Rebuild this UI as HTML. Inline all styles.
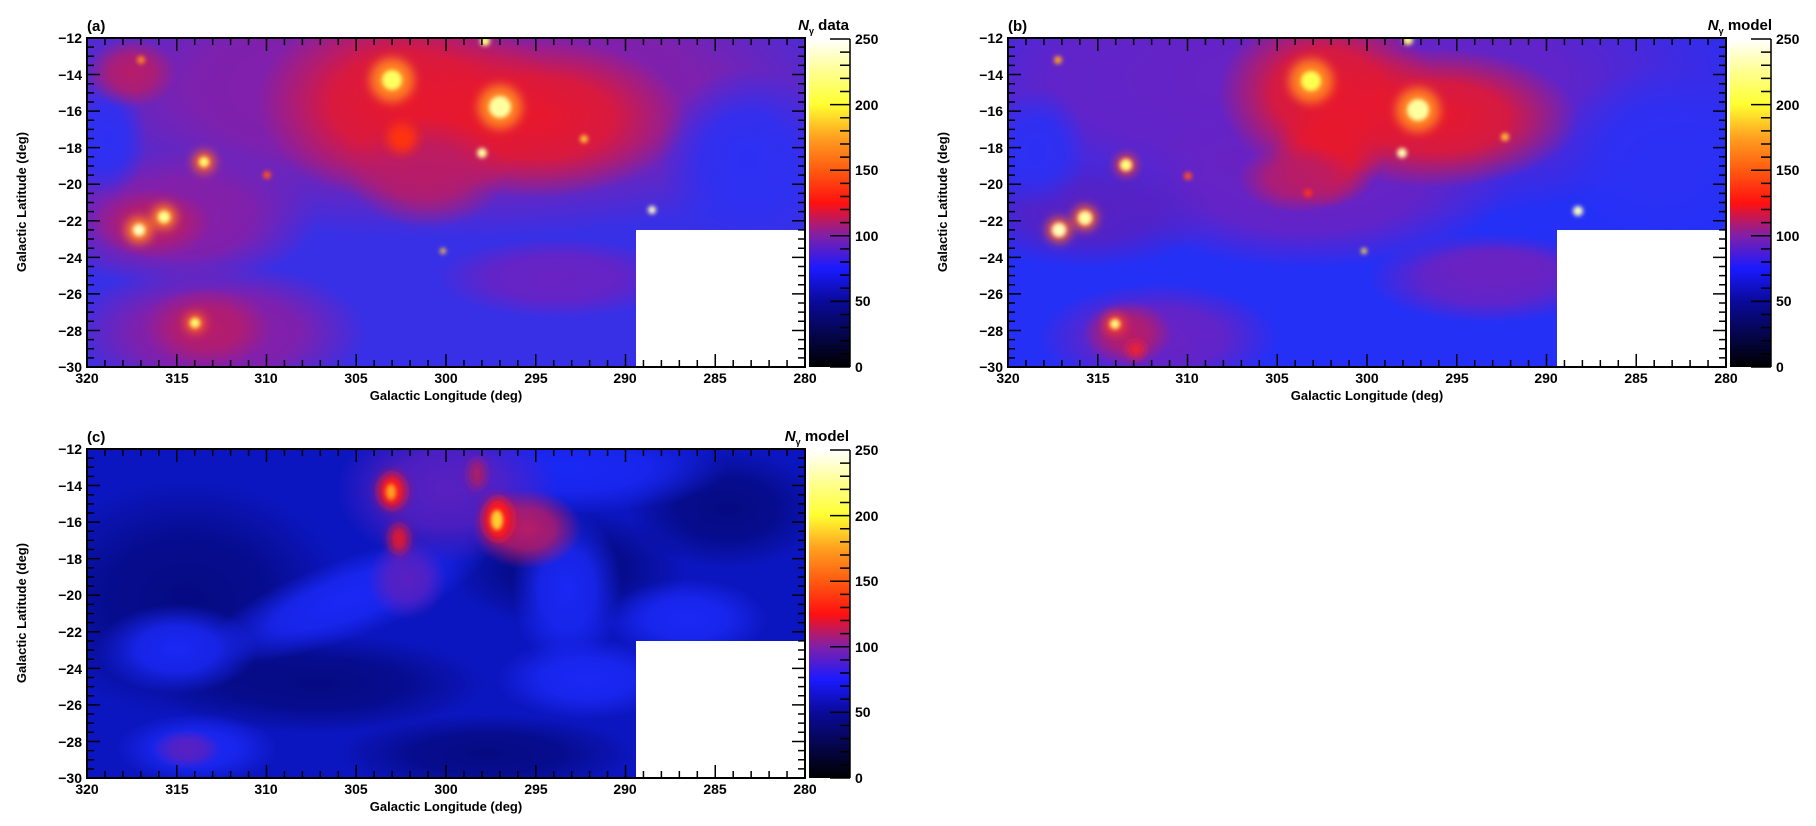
<!DOCTYPE html>
<html><head><meta charset="utf-8"><style>
html,body{margin:0;padding:0;background:#fff;width:1816px;height:826px;overflow:hidden}
svg{display:block}
text{font-family:"Liberation Sans",Arial,sans-serif;font-weight:bold;fill:#000}
</style></head><body>
<svg id="s" width="1816" height="826" viewBox="0 0 1816 826" xmlns="http://www.w3.org/2000/svg">
<defs>
<linearGradient id="cb" x1="0" y1="1" x2="0" y2="0">
<stop offset="0" stop-color="#000000"/>
<stop offset="0.2" stop-color="#0a0a9a"/>
<stop offset="0.3" stop-color="#1a1aff"/>
<stop offset="0.4" stop-color="#8020a8"/>
<stop offset="0.5" stop-color="#ff1010"/>
<stop offset="0.6" stop-color="#ff5a10"/>
<stop offset="0.7" stop-color="#ffa020"/>
<stop offset="0.8" stop-color="#ffff30"/>
<stop offset="0.9" stop-color="#ffff90"/>
<stop offset="1" stop-color="#ffffff"/>
</linearGradient>
<radialGradient id="gP"><stop offset="0" stop-color="#8a1ea4"/><stop offset="0.55" stop-color="#8a1ea4" stop-opacity="0.85"/><stop offset="1" stop-color="#8a1ea4" stop-opacity="0"/></radialGradient>
<radialGradient id="gV"><stop offset="0" stop-color="#6a22c2"/><stop offset="0.55" stop-color="#6a22c2" stop-opacity="0.85"/><stop offset="1" stop-color="#6a22c2" stop-opacity="0"/></radialGradient>
<radialGradient id="gR"><stop offset="0" stop-color="#e8182c"/><stop offset="0.5" stop-color="#e8182c" stop-opacity="0.85"/><stop offset="1" stop-color="#e8182c" stop-opacity="0"/></radialGradient>
<radialGradient id="gM"><stop offset="0" stop-color="#b81c68"/><stop offset="0.5" stop-color="#b81c68" stop-opacity="0.8"/><stop offset="1" stop-color="#b81c68" stop-opacity="0"/></radialGradient>
<radialGradient id="gB"><stop offset="0" stop-color="#1a28f4"/><stop offset="0.5" stop-color="#1a28f4" stop-opacity="0.85"/><stop offset="1" stop-color="#1a28f4" stop-opacity="0"/></radialGradient>
<radialGradient id="gBB"><stop offset="0" stop-color="#2c30f4"/><stop offset="0.5" stop-color="#2c30f4" stop-opacity="0.85"/><stop offset="1" stop-color="#2c30f4" stop-opacity="0"/></radialGradient>
<radialGradient id="gD"><stop offset="0" stop-color="#050a82"/><stop offset="0.5" stop-color="#050a82" stop-opacity="0.8"/><stop offset="1" stop-color="#050a82" stop-opacity="0"/></radialGradient>
<radialGradient id="gDP"><stop offset="0" stop-color="#5a20c0"/><stop offset="0.5" stop-color="#5a20c0" stop-opacity="0.8"/><stop offset="1" stop-color="#5a20c0" stop-opacity="0"/></radialGradient>
<filter id="b6" filterUnits="userSpaceOnUse" x="-300" y="-300" width="1400" height="1000"><feGaussianBlur stdDeviation="5"/></filter>
<filter id="b2" filterUnits="userSpaceOnUse" x="-300" y="-300" width="1400" height="1000"><feGaussianBlur stdDeviation="2"/></filter>
<clipPath id="cp"><rect x="0" y="0" width="718" height="329"/></clipPath>
</defs>

<!-- Panel A -->
<g transform="translate(87,38)" clip-path="url(#cp)">
<rect width="718" height="329" fill="#3830e6"/>
<ellipse cx="360" cy="50" rx="460" ry="150" fill="url(#gP)"/>
<ellipse cx="90" cy="180" rx="140" ry="70" fill="url(#gP)"/>
<ellipse cx="130" cy="295" rx="150" ry="70" fill="url(#gP)"/>
<ellipse cx="470" cy="240" rx="120" ry="40" fill="url(#gV)"/>
<ellipse cx="660" cy="120" rx="90" ry="90" fill="url(#gBB)"/>
<ellipse cx="20" cy="100" rx="40" ry="60" fill="url(#gBB)"/>
<ellipse cx="320" cy="65" rx="150" ry="100" fill="url(#gR)"/>
<ellipse cx="450" cy="80" rx="150" ry="80" fill="url(#gR)"/>
<ellipse cx="340" cy="135" rx="80" ry="55" fill="url(#gM)"/>
<ellipse cx="120" cy="290" rx="65" ry="40" fill="url(#gM)"/>
<ellipse cx="65" cy="185" rx="60" ry="35" fill="url(#gM)"/>
<ellipse cx="45" cy="35" rx="45" ry="35" fill="url(#gM)"/>
<g filter="url(#b6)">
<circle cx="305" cy="42" r="22" fill="#ff8020"/><circle cx="413" cy="69" r="22" fill="#ff8020"/>
<circle cx="315" cy="100" r="15" fill="#ff3010"/>
<circle cx="52" cy="192" r="13" fill="#ff8020"/><circle cx="77" cy="179" r="12" fill="#ff8020"/>
<circle cx="117" cy="124" r="11" fill="#ff6020"/><circle cx="108" cy="285" r="10" fill="#ff6020"/>
</g>
<g filter="url(#b2)">
<circle cx="305" cy="42" r="10" fill="#ffff60"/><circle cx="413" cy="69" r="11" fill="#ffffa0"/>
<circle cx="52" cy="192" r="6" fill="#ffffc0"/><circle cx="77" cy="179" r="6" fill="#ffff90"/>
<circle cx="117" cy="124" r="5" fill="#ffff70"/><circle cx="108" cy="285" r="5" fill="#ffff70"/>
<circle cx="395" cy="115" r="5" fill="#ffffa0"/><circle cx="565" cy="172" r="4" fill="#ffffc0"/>
<circle cx="497" cy="101" r="4" fill="#ffc030"/><circle cx="180" cy="137" r="4" fill="#ff5020"/>
<circle cx="398" cy="3" r="5" fill="#ffff80"/><circle cx="54" cy="22" r="4" fill="#ff8020"/>
<circle cx="356" cy="213" r="3" fill="#ffc040"/>
</g>
<rect x="549" y="192" width="169" height="137" fill="#fff"/>
</g>

<!-- Panel B -->
<g transform="translate(1008,38)" clip-path="url(#cp)">
<rect width="718" height="329" fill="#2430f6"/>
<ellipse cx="300" cy="40" rx="470" ry="150" fill="url(#gV)"/>
<ellipse cx="300" cy="150" rx="200" ry="80" fill="url(#gV)"/>
<ellipse cx="80" cy="175" rx="130" ry="55" fill="url(#gDP)"/>
<ellipse cx="150" cy="300" rx="120" ry="55" fill="url(#gV)"/>
<ellipse cx="480" cy="240" rx="120" ry="45" fill="url(#gV)"/>
<ellipse cx="650" cy="115" rx="100" ry="90" fill="url(#gBB)"/>
<ellipse cx="30" cy="110" rx="50" ry="60" fill="url(#gBB)"/>
<ellipse cx="320" cy="55" rx="110" ry="85" fill="url(#gR)"/>
<ellipse cx="430" cy="80" rx="140" ry="70" fill="url(#gR)"/>
<ellipse cx="320" cy="115" rx="55" ry="55" fill="url(#gR)"/>
<ellipse cx="290" cy="140" rx="60" ry="35" fill="url(#gM)"/>
<ellipse cx="490" cy="230" rx="80" ry="25" fill="url(#gV)"/>
<ellipse cx="120" cy="295" rx="45" ry="32" fill="url(#gM)"/>
<g filter="url(#b6)">
<circle cx="303" cy="43" r="22" fill="#ff8020"/><circle cx="410" cy="72" r="22" fill="#ff8020"/>
<circle cx="51" cy="192" r="12" fill="#ff6020"/><circle cx="77" cy="180" r="12" fill="#ff6020"/>
<circle cx="118" cy="127" r="10" fill="#ff4020"/><circle cx="107" cy="286" r="10" fill="#ff4020"/>
<circle cx="128" cy="312" r="8" fill="#ff2020"/>
</g>
<g filter="url(#b2)">
<circle cx="303" cy="43" r="10" fill="#ffff50"/><circle cx="410" cy="72" r="11" fill="#ffffa0"/>
<circle cx="51" cy="192" r="7" fill="#ffffc0"/><circle cx="77" cy="180" r="7" fill="#ffffa0"/>
<circle cx="118" cy="127" r="6" fill="#ffff80"/><circle cx="107" cy="286" r="5" fill="#ffff80"/>
<circle cx="394" cy="115" r="5" fill="#ffffb0"/><circle cx="570" cy="173" r="5" fill="#ffffc0"/>
<circle cx="497" cy="99" r="4" fill="#ffc030"/><circle cx="180" cy="138" r="4" fill="#ff5020"/>
<circle cx="400" cy="2" r="5" fill="#ffff80"/><circle cx="50" cy="22" r="4" fill="#ffa020"/>
<circle cx="356" cy="213" r="3" fill="#ffe040"/><circle cx="300" cy="155" r="4" fill="#ff3020"/>
</g>
<rect x="549" y="192" width="169" height="137" fill="#fff"/>
</g>

<!-- Panel C -->
<g transform="translate(87,449)" clip-path="url(#cp)">
<rect width="718" height="329" fill="#0c16c0"/>
<ellipse cx="100" cy="150" rx="160" ry="120" fill="url(#gD)"/>
<ellipse cx="480" cy="120" rx="120" ry="60" fill="url(#gD)"/>
<ellipse cx="640" cy="60" rx="100" ry="60" fill="url(#gD)"/>
<ellipse cx="230" cy="235" rx="170" ry="50" fill="url(#gD)"/>
<ellipse cx="400" cy="305" rx="150" ry="40" fill="url(#gD)"/>
<ellipse cx="260" cy="150" rx="150" ry="40" fill="url(#gB)" transform="rotate(-20 260 150)"/>
<ellipse cx="480" cy="20" rx="160" ry="45" fill="url(#gB)"/>
<ellipse cx="480" cy="140" rx="55" ry="80" fill="url(#gB)"/>
<ellipse cx="600" cy="170" rx="80" ry="40" fill="url(#gB)"/>
<ellipse cx="500" cy="230" rx="90" ry="40" fill="url(#gB)"/>
<ellipse cx="90" cy="200" rx="80" ry="45" fill="url(#gB)"/>
<ellipse cx="110" cy="300" rx="80" ry="35" fill="url(#gB)"/>
<ellipse cx="360" cy="40" rx="110" ry="75" fill="url(#gDP)"/>
<ellipse cx="440" cy="80" rx="55" ry="40" fill="url(#gM)"/>
<ellipse cx="320" cy="130" rx="40" ry="40" fill="url(#gDP)"/>
<ellipse cx="100" cy="300" rx="35" ry="20" fill="url(#gDP)"/>
<g filter="url(#b6)">
<ellipse cx="305" cy="42" rx="14" ry="18" fill="#ff1818"/>
<ellipse cx="411" cy="70" rx="15" ry="22" fill="#ff1818"/>
<ellipse cx="312" cy="90" rx="10" ry="15" fill="#e01830"/>
<ellipse cx="390" cy="25" rx="8" ry="15" fill="#b01c60"/>
</g>
<g filter="url(#b2)">
<ellipse cx="304" cy="43" rx="5" ry="8" fill="#ffa020"/>
<ellipse cx="410" cy="71" rx="6" ry="10" fill="#ffd030"/>
</g>
<rect x="549" y="192" width="169" height="137" fill="#fff"/>
</g>

<!-- frames & colorbars -->
<g fill="none" stroke="#000" stroke-width="2">
<rect x="87" y="38" width="718" height="329"/>
<rect x="1008" y="38" width="718" height="329"/>
<rect x="87" y="449" width="718" height="329"/>
</g>
<rect x="809" y="39" width="41" height="328" fill="url(#cb)"/>
<rect x="1730" y="39" width="41" height="328" fill="url(#cb)"/>
<rect x="809" y="450" width="41" height="328" fill="url(#cb)"/>
<g id="ticks" stroke="#000" stroke-width="1.5"></g>

<!-- Panel A labels -->
<text x="87" y="31" font-size="15">(a)</text>
<text x="849" y="30" font-size="15" text-anchor="end"><tspan font-style="italic">N</tspan><tspan font-size="9" dy="4">γ</tspan><tspan dy="-4"> data</tspan></text>
<g font-size="14" text-anchor="end">
<text x="82" y="43">−12</text><text x="82" y="80">−14</text><text x="82" y="116">−16</text><text x="82" y="153">−18</text><text x="82" y="189">−20</text><text x="82" y="226">−22</text><text x="82" y="263">−24</text><text x="82" y="299">−26</text><text x="82" y="336">−28</text><text x="82" y="372">−30</text>
</g>
<g font-size="14" text-anchor="middle">
<text x="87" y="383">320</text><text x="177" y="383">315</text><text x="266" y="383">310</text><text x="356" y="383">305</text><text x="446" y="383">300</text><text x="536" y="383">295</text><text x="625" y="383">290</text><text x="715" y="383">285</text><text x="805" y="383">280</text>
</g>
<g font-size="14">
<text x="855" y="44">250</text><text x="855" y="110">200</text><text x="855" y="175">150</text><text x="855" y="241">100</text><text x="855" y="306">50</text><text x="855" y="372">0</text>
</g>
<text x="446" y="400" font-size="13" text-anchor="middle">Galactic Longitude (deg)</text>
<text x="0" y="0" font-size="13" text-anchor="middle" transform="translate(26,202) rotate(-90)">Galactic Latitude (deg)</text>

<!-- Panel B labels -->
<text x="1008" y="31" font-size="15">(b)</text>
<text x="1772" y="30" font-size="15" text-anchor="end"><tspan font-style="italic">N</tspan><tspan font-size="9" dy="4">γ</tspan><tspan dy="-4"> model</tspan></text>
<g font-size="14" text-anchor="end">
<text x="1003" y="43">−12</text><text x="1003" y="80">−14</text><text x="1003" y="116">−16</text><text x="1003" y="153">−18</text><text x="1003" y="189">−20</text><text x="1003" y="226">−22</text><text x="1003" y="263">−24</text><text x="1003" y="299">−26</text><text x="1003" y="336">−28</text><text x="1003" y="372">−30</text>
</g>
<g font-size="14" text-anchor="middle">
<text x="1008" y="383">320</text><text x="1098" y="383">315</text><text x="1187" y="383">310</text><text x="1277" y="383">305</text><text x="1367" y="383">300</text><text x="1457" y="383">295</text><text x="1546" y="383">290</text><text x="1636" y="383">285</text><text x="1726" y="383">280</text>
</g>
<g font-size="14">
<text x="1776" y="44">250</text><text x="1776" y="110">200</text><text x="1776" y="175">150</text><text x="1776" y="241">100</text><text x="1776" y="306">50</text><text x="1776" y="372">0</text>
</g>
<text x="1367" y="400" font-size="13" text-anchor="middle">Galactic Longitude (deg)</text>
<text x="0" y="0" font-size="13" text-anchor="middle" transform="translate(947,202) rotate(-90)">Galactic Latitude (deg)</text>

<!-- Panel C labels -->
<text x="87" y="442" font-size="15">(c)</text>
<text x="849" y="441" font-size="15" text-anchor="end"><tspan font-style="italic">N</tspan><tspan font-size="9" dy="4">γ</tspan><tspan dy="-4"> model</tspan></text>
<g font-size="14" text-anchor="end">
<text x="82" y="454">−12</text><text x="82" y="491">−14</text><text x="82" y="527">−16</text><text x="82" y="564">−18</text><text x="82" y="600">−20</text><text x="82" y="637">−22</text><text x="82" y="674">−24</text><text x="82" y="710">−26</text><text x="82" y="747">−28</text><text x="82" y="783">−30</text>
</g>
<g font-size="14" text-anchor="middle">
<text x="87" y="794">320</text><text x="177" y="794">315</text><text x="266" y="794">310</text><text x="356" y="794">305</text><text x="446" y="794">300</text><text x="536" y="794">295</text><text x="625" y="794">290</text><text x="715" y="794">285</text><text x="805" y="794">280</text>
</g>
<g font-size="14">
<text x="855" y="455">250</text><text x="855" y="521">200</text><text x="855" y="586">150</text><text x="855" y="652">100</text><text x="855" y="717">50</text><text x="855" y="783">0</text>
</g>
<text x="446" y="811" font-size="13" text-anchor="middle">Galactic Longitude (deg)</text>
<text x="0" y="0" font-size="13" text-anchor="middle" transform="translate(26,613) rotate(-90)">Galactic Latitude (deg)</text>
</svg>
<script>
(function(){
var g=document.getElementById('ticks'),d='';
function panel(x0,y0,cbx){
  for(var i=0;i<=40;i++){var x=x0+i*718/40,L=(i%5==0)?13:7;
    d+='M'+x+' '+(y0+329)+'v'+(-L)+'M'+x+' '+y0+'v'+L;}
  for(var j=0;j<=36;j++){var y=y0+j*329/36,L=(j%4==0)?13:7;
    d+='M'+x0+' '+y+'h'+L+'M'+(x0+718)+' '+y+'h'+(-L);}
  for(var k=0;k<=25;k++){var y=y0+1+k*328/25,L=(k%5==0)?20:10;
    d+='M'+(cbx+41)+' '+y+'h'+(-L);}
  d+='M'+(cbx+41)+' '+(y0+1)+'v328';
}
panel(87,38,809);panel(1008,38,1730);panel(87,449,809);
var p=document.createElementNS('http://www.w3.org/2000/svg','path');
p.setAttribute('d',d);p.setAttribute('fill','none');g.appendChild(p);
})();
</script>
</body></html>
